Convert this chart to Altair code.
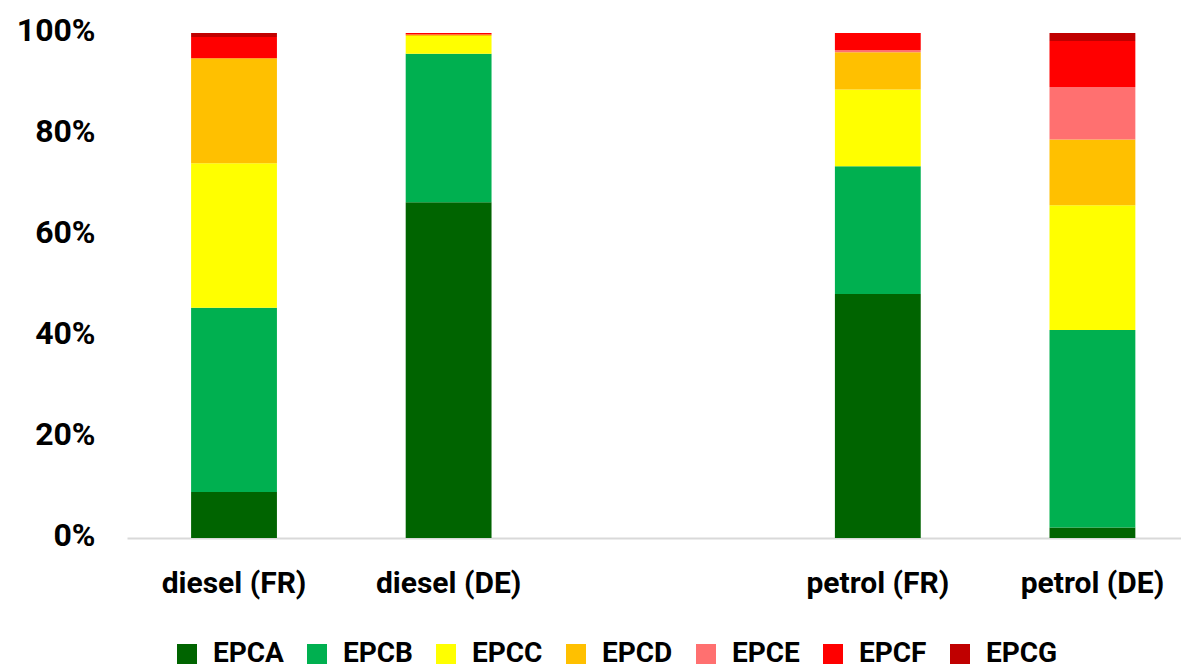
import altair as alt
import pandas as pd

# Fuel / country groups; the blank slot keeps a gap between diesel and petrol
groups = ["diesel (FR)", "diesel (DE)", "", "petrol (FR)", "petrol (DE)"]
bar_groups = ["diesel (FR)", "diesel (DE)", "petrol (FR)", "petrol (DE)"]

# EPC class shares (%) per group, in the order of bar_groups
classes = ["EPCA", "EPCB", "EPCC", "EPCD", "EPCE", "EPCF", "EPCG"]
epca = [9.1, 66.5, 48.3, 2.1]
epcb = [36.5, 29.4, 25.3, 39.1]
epcc = [28.6, 3.5, 15.2, 24.7]
epcd = [20.8, 0.3, 7.4, 13.0]
epce = [0.0, 0.0, 0.4, 10.4]
epcf = [4.2, 0.3, 3.4, 9.1]
epcg = [0.8, 0.0, 0.0, 1.6]

colors = ["#006400", "#00B050", "#FFFF00", "#FFC000", "#FF7070", "#FF0000", "#C00000"]
y_ticks = [0, 0.2, 0.4, 0.6, 0.8, 1.0]

series = [epca, epcb, epcc, epcd, epce, epcf, epcg]
rows = []
for rank, (cls, vals) in enumerate(zip(classes, series)):
    for grp, v in zip(bar_groups, vals):
        rows.append({"group": grp, "cls": cls, "rank": rank, "share": v / 100})
df = pd.DataFrame(rows)

FONT = "Roboto"

chart = (
    alt.Chart(df)
    .mark_bar()
    .encode(
        x=alt.X(
            "group:N",
            sort=groups,
            scale=alt.Scale(domain=groups, paddingInner=0.6, paddingOuter=0.2557, align=0.584),
            axis=alt.Axis(
                title=None,
                labelAngle=0,
                labelFont=FONT,
                labelFontWeight="bold",
                labelFontSize=30,
                labelColor="#000000",
                labelPadding=30,
                labelLimit=0,
                ticks=False,
                tickSize=0,
                domainColor="#D9D9D9",
                domainWidth=2,
                grid=False,
            ),
        ),
        y=alt.Y(
            "share:Q",
            stack=True,
            scale=alt.Scale(domain=[0, 1], nice=False),
            axis=alt.Axis(
                title=None,
                values=y_ticks,
                format=".0%",
                labelFont=FONT,
                labelFontWeight="bold",
                labelFontSize=32,
                labelColor="#000000",
                labelPadding=32,
                labelOffset=-3,
                labelLimit=0,
                ticks=False,
                tickSize=0,
                domain=False,
                grid=False,
            ),
        ),
        color=alt.Color(
            "cls:N",
            scale=alt.Scale(domain=classes, range=colors),
            legend=alt.Legend(
                title=None,
                orient="none",
                legendX=46,
                legendY=607,
                direction="horizontal",
                columns=7,
                symbolType="square",
                symbolSize=400,
                symbolStrokeWidth=0,
                symbolOpacity=1,
                labelFont=FONT,
                labelFontWeight="bold",
                labelFontSize=28,
                labelColor="#000000",
                labelOffset=12,
                labelLimit=0,
                columnPadding=19,
            ),
        ),
        order=alt.Order("rank:Q", sort="ascending"),
    )
    .properties(
        width=1054,
        height=505,
        autosize=alt.AutoSizeParams(type="none"),
        padding={"left": 127, "top": 33, "right": 0, "bottom": 133},
        background="white",
    )
    .configure_view(stroke=None)
)

chart.save("out.html", embed_options={"renderer": "svg", "actions": False})
